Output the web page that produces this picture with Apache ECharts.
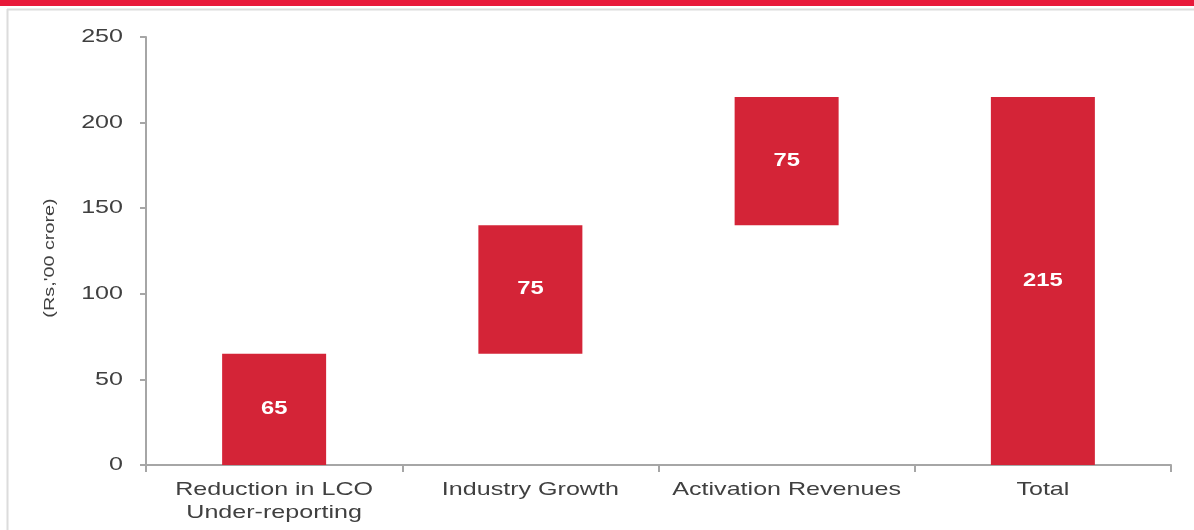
<!DOCTYPE html>
<html><head><meta charset="utf-8">
<script src="https://cdn.jsdelivr.net/npm/echarts@6/dist/echarts.min.js"></script>
<style>html,body{margin:0;padding:0;background:#fff}#c{width:1194px;height:530px}</style>
</head><body><div id="c"></div>
<script>
var categories = ["Reduction in LCO\nUnder-reporting", "Industry Growth", "Activation Revenues", "Total"];
var baseValues = [0, 65, 140, 0];
var barValues = [65, 75, 75, 215];
var yTicks = [0, 50, 100, 150, 200, 250];

// horizontally stretched text, like the reference rendering
(function () {
  var K = 1.32;
  var proto = CanvasRenderingContext2D.prototype;
  var of = proto.fillText, om = proto.measureText;
  proto.fillText = function (t, x, y) {
    this.save();
    this.scale(K, 1);
    var r = of.call(this, t, x / K, y);
    this.restore();
    return r;
  };
  proto.measureText = function (t) {
    var m = om.call(this, t);
    return {
      width: m.width * K,
      actualBoundingBoxAscent: m.actualBoundingBoxAscent,
      actualBoundingBoxDescent: m.actualBoundingBoxDescent,
      actualBoundingBoxLeft: m.actualBoundingBoxLeft * K,
      actualBoundingBoxRight: m.actualBoundingBoxRight * K,
      fontBoundingBoxAscent: m.fontBoundingBoxAscent,
      fontBoundingBoxDescent: m.fontBoundingBoxDescent
    };
  };
})();

var FF = 'Liberation Sans, Arial, sans-serif';
var chart = echarts.init(document.getElementById('c'), null, {renderer: 'canvas'});
var txt = '#404040';
chart.setOption({
  animation: false,
  backgroundColor: '#fff',
  graphic: [
    {type: 'rect', shape: {x: 0, y: 0, width: 1194, height: 6}, style: {fill: '#E8193A'}},
    {type: 'line', shape: {x1: 7, y1: 9.5, x2: 1194, y2: 9.5}, style: {stroke: '#dcdcdc', lineWidth: 2}},
    {type: 'line', shape: {x1: 7.5, y1: 9, x2: 7.5, y2: 530}, style: {stroke: '#dcdcdc', lineWidth: 2}},
    {type: 'text', x: 50, y: 258, rotation: Math.PI / 2,
     style: {text: "(Rs,'00 crore)", fill: txt, font: '15px ' + FF, align: 'center', verticalAlign: 'middle'}}
  ],
  grid: {left: 146, right: 23, top: 37, bottom: 65, containLabel: false},
  xAxis: {
    type: 'category',
    data: categories,
    axisLine: {lineStyle: {color: '#a6a6a6', width: 2}},
    axisTick: {show: true, interval: 0, length: 7, lineStyle: {color: '#a6a6a6', width: 2}},
    axisLabel: {interval: 0, hideOverlap: false, color: txt, fontSize: 19, fontFamily: FF, lineHeight: 23, margin: 13}
  },
  yAxis: {
    type: 'value',
    min: 0, max: 250, interval: 50,
    splitLine: {show: false},
    axisLine: {show: true, lineStyle: {color: '#a6a6a6', width: 2}},
    axisTick: {show: true, length: 6, lineStyle: {color: '#a6a6a6', width: 2}},
    axisLabel: {color: txt, fontSize: 19, fontFamily: FF, margin: 23,
      formatter: function (v) { return yTicks.indexOf(v) >= 0 ? String(v) : ''; }}
  },
  series: [
    {type: 'bar', stack: 'w', data: baseValues, barWidth: 104,
     itemStyle: {color: 'transparent'}, emphasis: {disabled: true}, silent: true},
    {type: 'bar', stack: 'w', data: barValues, barWidth: 104,
     itemStyle: {color: '#D42437'},
     label: {show: true, position: 'inside', color: '#fff', fontWeight: 'bold', fontSize: 18, fontFamily: FF}}
  ]
});
</script></body></html>
